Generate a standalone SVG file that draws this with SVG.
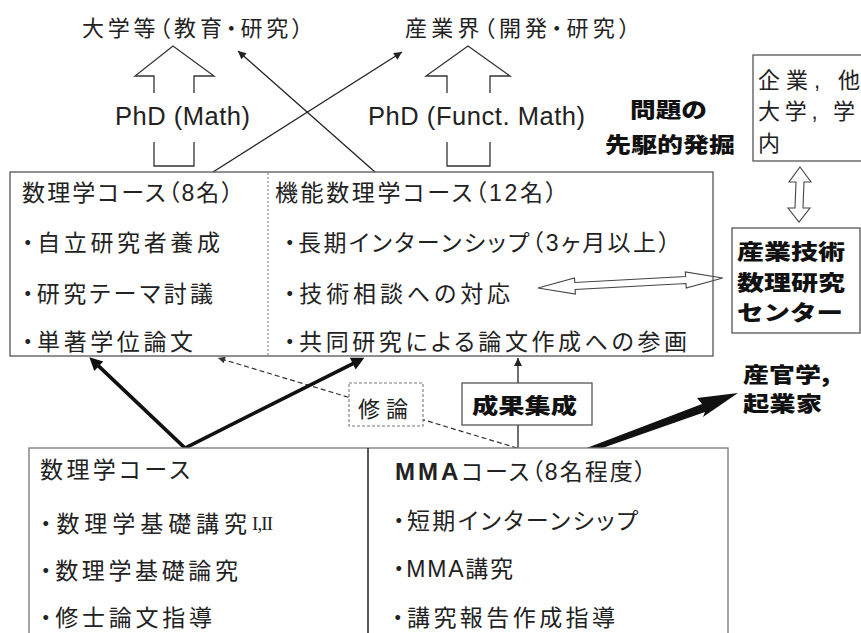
<svg xmlns="http://www.w3.org/2000/svg" width="861" height="633" viewBox="0 0 861 633">
<defs>
<style>
.t{font-family:"Liberation Sans","Noto Sans CJK JP",sans-serif;font-size:23px;fill:#222;font-feature-settings:"palt";}
.h{font-family:"Liberation Sans","Noto Sans CJK JP",sans-serif;font-size:22px;fill:#222;font-feature-settings:"palt";}
.b{font-family:"Noto Sans CJK JP",sans-serif;font-size:21px;font-weight:900;fill:#111;}
.l{font-family:"Liberation Sans",sans-serif;font-size:25.5px;fill:#222;}
.box{fill:#fff;stroke:#555;stroke-width:1.3;}
.hol{fill:none;stroke:#333;stroke-width:1.3;stroke-linejoin:miter;}
.holf{fill:#fff;stroke:#444;stroke-width:1.1;}
.thin{fill:none;stroke:#222;stroke-width:1.3;}
.thick{fill:none;stroke:#111;stroke-width:3.6;stroke-linejoin:miter;}
.dash{fill:none;stroke:#333;stroke-width:1.2;stroke-dasharray:5 3;}
</style>
<marker id="ah" viewBox="0 0 10 10" refX="10" refY="5" markerWidth="10" markerHeight="8" markerUnits="userSpaceOnUse" orient="auto-start-reverse"><path d="M0,0 L10,5 L0,10 z" fill="#222"/></marker>
<marker id="ahd" viewBox="0 0 10 10" refX="10" refY="5" markerWidth="10" markerHeight="7" markerUnits="userSpaceOnUse" orient="auto"><path d="M0,0 L10,5 L0,10 z" fill="#333"/></marker>
<marker id="ahk" viewBox="0 0 10 10" refX="4" refY="5" markerWidth="16" markerHeight="13" markerUnits="userSpaceOnUse" orient="auto-start-reverse"><path d="M0,0 L10,5 L0,10 z" fill="#111"/></marker>
</defs>
<rect width="861" height="633" fill="#fff"/>

<g id="connectors">
<polyline class="hol" points="154,93 154,76 135,76 173,46 214,76 194,76 194,93"/>
<polyline class="hol" points="154,142 154,166 194,166 194,142"/>
<polyline class="hol" points="447,93 447,76 426,76 468,46 510,76 490,76 490,93"/>
<polyline class="hol" points="447,142 447,166 490,166 490,142"/>
<line class="thin" x1="213" y1="172" x2="402" y2="52" marker-end="url(#ah)"/>
<line class="thin" x1="375" y1="172" x2="238" y2="51" marker-end="url(#ah)"/>
<polygon class="holf" points="800,167 811,182 804,182 803,208 810,208 799,222 788,208 795,208 796,182 789,182"/>
<polygon class="holf" transform="translate(538,288) rotate(-3.1)" points="0,0 37,-8 37,-3.5 148,-3.5 148,-8 185,0 148,8 148,3.5 37,3.5 37,8"/>
<line class="dash" x1="517" y1="448" x2="218" y2="358" marker-end="url(#ahd)"/>
<path class="thick" d="M95,362.6 L185,448 L357.4,361.3" marker-start="url(#ahk)" marker-end="url(#ahk)"/>
<line class="thin" x1="518" y1="448" x2="518" y2="425"/>
<line class="thin" x1="518" y1="383" x2="518" y2="358" marker-end="url(#ah)"/>
<polygon fill="#111" points="738,393 697,398 702,404 584,449 576,456 591,452 705,412 703,417"/>
</g>

<g id="label-univ"><text class="h" x="82" y="36.4" textLength="221" lengthAdjust="spacing">大学等（教育・研究）</text></g>
<g id="label-industry"><text class="h" x="405" y="36.4" textLength="225" lengthAdjust="spacing">産業界（開発・研究）</text></g>
<g id="label-phd-math"><text class="l" x="115" y="125" textLength="135" lengthAdjust="spacing">PhD (Math)</text></g>
<g id="label-phd-funct"><text class="l" x="368" y="125" textLength="217" lengthAdjust="spacing">PhD (Funct. Math)</text></g>
<g id="label-problem">
<text class="b" x="630" y="116.5" textLength="77" lengthAdjust="spacingAndGlyphs">問題の</text>
<text class="b" x="605" y="152" textLength="130" lengthAdjust="spacingAndGlyphs">先駆的発掘</text>
</g>

<g id="node-partners">
<rect class="box" x="753" y="55" width="120" height="106"/>
<text class="h" x="758" y="88" textLength="102" lengthAdjust="spacing">企業, 他</text>
<text class="h" x="758" y="119" textLength="97" lengthAdjust="spacing">大学, 学</text>
<text class="h" x="758" y="151">内</text>
</g>

<g id="node-doctor">
<rect x="10" y="172" width="703" height="184" fill="none" stroke="#555" stroke-width="1.3"/>
<line x1="268" y1="173" x2="268" y2="355" stroke="#777" stroke-width="1" stroke-dasharray="2 2"/>
<text class="t" x="22" y="200.7" textLength="211" lengthAdjust="spacing">数理学コース（8名）</text>
<text class="t" x="22" y="250.7" textLength="198" lengthAdjust="spacing">・自立研究者養成</text>
<text class="t" x="22" y="301.7" textLength="191" lengthAdjust="spacing">・研究テーマ討議</text>
<text class="t" x="22" y="349.7" textLength="171" lengthAdjust="spacing">・単著学位論文</text>
<text class="t" x="275" y="200.7" textLength="282" lengthAdjust="spacing">機能数理学コース（12名）</text>
<text class="t" x="284" y="250.7" textLength="386" lengthAdjust="spacing">・長期インターンシップ（3ヶ月以上）</text>
<text class="t" x="284" y="301.7" textLength="226" lengthAdjust="spacing">・技術相談への対応</text>
<text class="t" x="284" y="349.7" textLength="403" lengthAdjust="spacing">・共同研究による論文作成への参画</text>
</g>

<g id="node-center">
<rect class="box" x="732" y="228" width="128" height="105"/>
<text class="b" x="737" y="259" textLength="108" lengthAdjust="spacingAndGlyphs">産業技術</text>
<text class="b" x="737" y="290" textLength="108" lengthAdjust="spacingAndGlyphs">数理研究</text>
<text class="b" x="737" y="320" textLength="106" lengthAdjust="spacingAndGlyphs">センター</text>
</g>

<g id="node-shuron">
<rect x="349" y="383" width="74" height="43" fill="#fff" stroke="#777" stroke-width="1.1" stroke-dasharray="3 2"/>
<text class="h" x="358" y="417" font-size="24" textLength="50" lengthAdjust="spacing">修論</text>
</g>

<g id="node-seika">
<rect class="box" x="462" y="383" width="130" height="42"/>
<text class="b" x="472" y="413" font-size="22" textLength="105" lengthAdjust="spacingAndGlyphs">成果集成</text>
</g>

<g id="label-sankangaku">
<text class="b" x="743" y="382" textLength="87" lengthAdjust="spacingAndGlyphs">産官学,</text>
<text class="b" x="743" y="410.5" textLength="79" lengthAdjust="spacingAndGlyphs">起業家</text>
</g>

<g id="node-master">
<rect x="29" y="448" width="699" height="200" fill="#fff" stroke="#777" stroke-width="1.3"/>
<line x1="368" y1="448" x2="368" y2="633" stroke="#222" stroke-width="1.5"/>
<text class="t" x="40" y="478" textLength="150" lengthAdjust="spacing">数理学コース</text>
<text class="t" x="40" y="532" textLength="207" lengthAdjust="spacing">・数理学基礎講究</text>
<text x="252" y="530" font-family="Liberation Serif,serif" font-size="19" fill="#222" textLength="21" lengthAdjust="spacing">I,II</text>
<text class="t" x="395" y="480"><tspan font-weight="bold" font-size="24" letter-spacing="3">MMA</tspan><tspan letter-spacing="2">コース（8名程度）</tspan></text>
<text class="t" x="40" y="579" textLength="198" lengthAdjust="spacing">・数理学基礎論究</text>
<text class="t" x="40" y="626" textLength="172" lengthAdjust="spacing">・修士論文指導</text>
<text class="t" x="393" y="529" textLength="245" lengthAdjust="spacing">・短期インターンシップ</text>
<text class="t" x="393" y="577" textLength="120" lengthAdjust="spacing">・MMA講究</text>
<text class="t" x="392" y="626" textLength="223" lengthAdjust="spacing">・講究報告作成指導</text>
</g>
</svg>
